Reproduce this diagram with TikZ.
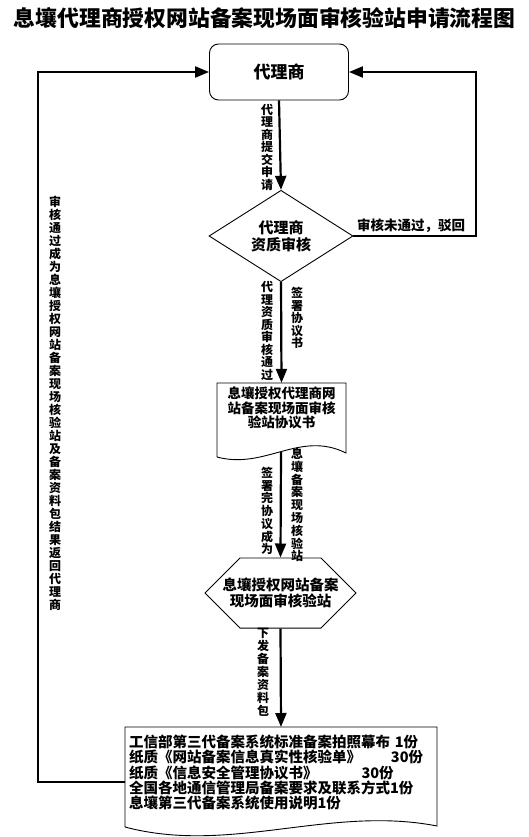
\documentclass[tikz,border=0pt]{standalone}
\usepackage{fontspec}
\setmainfont{Noto Sans CJK SC}
\usetikzlibrary{arrows.meta,shapes.geometric,shapes.misc}

% one character per line, for the labels along the arrows
\newcommand\vtxt[1]{\vtxtfirst#1\relax}
\def\vtxtfirst#1{#1\vtxtrest}
\def\vtxtrest#1{\ifx#1\relax\else\\#1\expandafter\vtxtrest\fi}

\begin{document}
\begin{tikzpicture}[x=1pt,y=-1pt,
    flow/.style={line width=2.2pt,-{Triangle[length=14pt,width=11pt]}},
    shapebox/.style={draw,line width=0.9pt,align=center,inner sep=0pt,
      font=\bfseries\fontsize{15}{17}\selectfont},
    vlabel/.style={align=center,inner sep=0pt,
      font=\bfseries\fontsize{12}{12.5}\selectfont}]

    \useasboundingbox (0,0) rectangle (529,837);

    \coordinate (loop-left) at (38,72);
    \coordinate (loop-right) at (476,72);
    \coordinate (agreement-out) at (281,452);
    \coordinate (pack-out) at (125,782);

    \node[font=\bfseries\fontsize{21.8}{24}\selectfont] (title) at (264.5,18)
        {息壤代理商授权网站备案现场面审核验站申请流程图};

    \node[shapebox,rounded corners=9pt,minimum width=139pt,minimum height=56pt,
          font=\bfseries\fontsize{17}{20}\selectfont] (agent) at (279,72) {代理商};
    \node[shapebox,diamond,minimum width=144pt,minimum height=85pt] (check) at (281,236)
        {代理商\\资质审核};
    \node[align=center,inner sep=0pt,minimum width=129pt,minimum height=50pt,
          font=\bfseries\fontsize{13.5}{14.6}\selectfont] (agreement) at (281.5,408)
        {息壤授权代理商网\\站备案现场面审核\\验站协议书};
    \node[shapebox,chamfered rectangle,chamfered rectangle xsep=17pt,
          chamfered rectangle ysep=20pt,minimum width=151pt,minimum height=59pt,
          font=\bfseries\fontsize{14.5}{16}\selectfont] (station) at (280.5,593)
        {息壤授权网站备案\\现场面审核验站};
    \node[anchor=north,align=left,text width=304pt,inner xsep=4pt,inner ysep=8pt,
          font=\bfseries\fontsize{14.5}{15.2}\selectfont] (pack) at (281,727)
        {工信部第三代备案系统标准备案拍照幕布 1份\\
         纸质《网站备案信息真实性核验单》\hspace{30pt}30份\\
         纸质《信息安全管理协议书》\hspace{44pt}30份\\
         全国各地通信管理局备案要求及联系方式1份\\
         息壤第三代备案系统使用说明1份};

    % document outlines
    \draw[line width=0.9pt] (217,457) -- (217,383) -- (346,383) -- (346,453)
        .. controls (300,430) and (265,470) .. (217,457);
    \draw[line width=0.9pt] (125,827) -- (125,727) -- (437,727) -- (437,826)
        .. controls (330,805) and (230,855) .. (125,827);

    \draw[flow] (agent.south) -- (check.north);
    \draw[flow] (check.south) -- (agreement.north);
    \draw[flow] (agreement-out) -- (station.north);
    \draw[flow] (station.south) -- (pack.north);
    \draw[flow] (check.east) -| (loop-right) -- (agent.east);
    \draw[flow] (pack-out) -| (loop-left) -- (agent.west);

    \node[font=\bfseries\fontsize{13.5}{15}\selectfont] (reject) at (411,226) {审核未通过，驳回};
    \node[vlabel] (submit) at (267,147) {\vtxt{代理商提交申请}};
    \node[vlabel] (passed) at (267,331) {\vtxt{代理资质审核通过}};
    \node[vlabel] (sign) at (297,318) {\vtxt{签署协议书}};
    \node[vlabel,font=\bfseries\fontsize{12}{12.7}\selectfont] (become) at (267,511) {\vtxt{签署完协议成为}};
    \node[vlabel,font=\bfseries\fontsize{12}{12.8}\selectfont] (site) at (297,505) {\vtxt{息壤备案现场核验站}};
    \node[vlabel,font=\bfseries\fontsize{12}{13}\selectfont] (issue) at (263,672) {\vtxt{下发备案资料包}};
    \node[vlabel,font=\bfseries\fontsize{12}{13}\selectfont] (result) at (55,403.5)
        {\vtxt{审核通过成为息壤授权网站备案现场核验站及备案资料包结果返回代理商}};
\end{tikzpicture}
\end{document}
